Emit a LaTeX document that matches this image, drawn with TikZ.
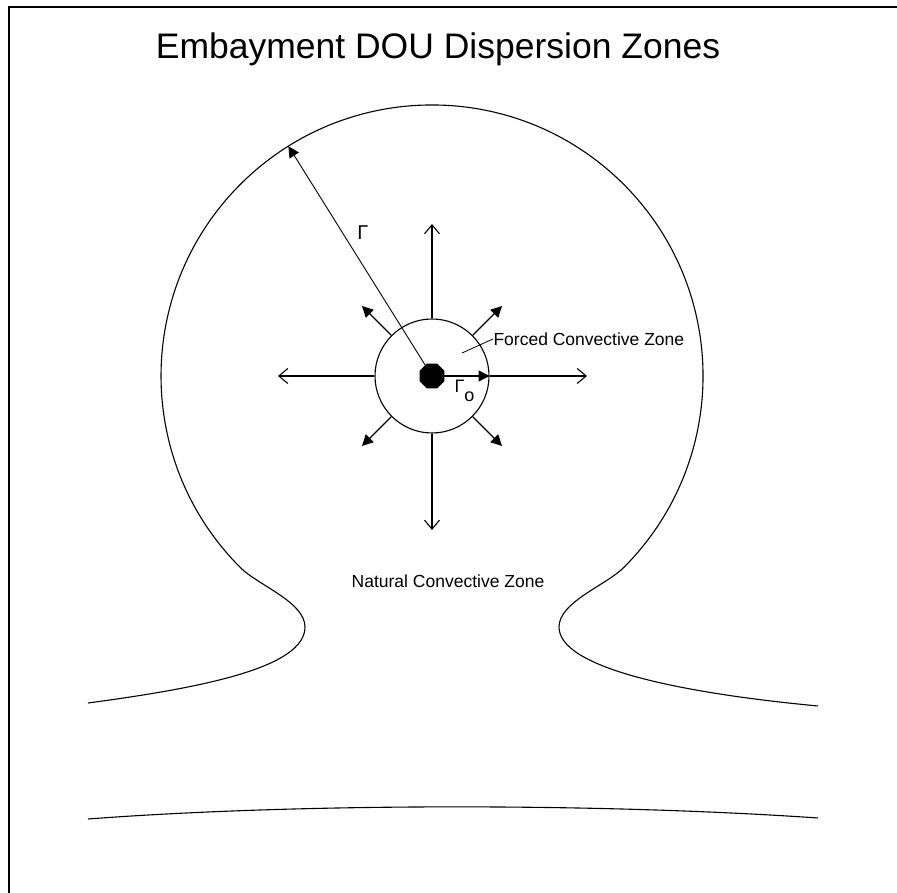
\documentclass[tikz,border=0pt]{standalone}
\usepackage{fontspec}
\setmainfont{Liberation Sans}
\usetikzlibrary{calc, shapes.geometric, arrows.meta}

\begin{document}
\begin{tikzpicture}[
    x = 1pt, y = 1pt,
    line width = 1.1pt,
    every node/.style = {inner sep = 0pt},
    spread/.style = {-{Straight Barb[length=9pt, width=15pt]}},
    radius arrow/.style = {-{Triangle[length=11pt, width=11pt]}},
    zone/.style = {font = \fontsize{17.5}{20}\selectfont},
    symbol/.style = {font = \fontsize{20}{24}\selectfont}
  ]
  \useasboundingbox (0,0) rectangle (897,893);

  % frame
  \draw[line width = 2.5pt] (9,0) -- (9,886) -- (897,886);

  \node[anchor = base, font = \fontsize{35.5}{42}\selectfont] (title)
    at (438,834) {Embayment DOU Dispersion Zones};

  % embayment outline
  \coordinate (c) at (432,517);
  \draw (88,190) .. controls (200,205) and (305,225) .. (305,266)
    .. controls (305,291) and (258,307.7) .. (240.4,325.4)
    arc[start angle = 225, end angle = -45, radius = 271]
    .. controls (606,307.7) and (559,291) .. (559,266)
    .. controls (559,225) and (680,200) .. (818,187);
  \draw (88,74) .. controls (300,90) and (600,90) .. (818,75);

  % zones
  \node[draw, circle, minimum size = 114pt] (fz) at (c) {};
  \node[regular polygon, regular polygon sides = 8, fill,
    minimum size = 27pt] (well) at (c) {};

  \coordinate (n)  at ($(c)+(90:152)$);
  \coordinate (s)  at ($(c)+(270:154)$);
  \coordinate (w)  at ($(c)+(180:154)$);
  \coordinate (e)  at ($(c)+(0:155)$);
  \coordinate (nw) at ($(c)+(135:99)$);
  \coordinate (ne) at ($(c)+(45:99)$);
  \coordinate (sw) at ($(c)+(225:99)$);
  \coordinate (se) at ($(c)+(315:99)$);
  \coordinate (rtip) at ($(c)+(122:271)$);

  \draw[spread] (fz.north) -- (n);
  \draw[spread] (fz.south) -- (s);
  \draw[spread] (fz.west)  -- (w);
  \draw[spread] (fz.east)  -- (e);
  \draw[radius arrow] (fz.north west) -- (nw);
  \draw[radius arrow] (fz.north east) -- (ne);
  \draw[radius arrow] (fz.south west) -- (sw);
  \draw[radius arrow] (fz.south east) -- (se);

  \draw[radius arrow] (well.center) -- (fz.east);
  \draw[radius arrow, line width = 0.9pt] (well.center) -- (rtip);

  % Labels
  \node[symbol] (r) at (363,660) {Γ};
  \node[anchor = base west, font = \fontsize{18}{22}\selectfont] (ro)
    at (454,500) {Γ\raisebox{-9pt}{o}};
  \node[zone, anchor = west] (forced) at (493,554) {Forced Convective Zone};
  \coordinate (lead) at (462,540);
  \draw[line width = 0.8pt] (forced.west) -- (lead);
  \node[zone] (natural) at (448,312) {Natural Convective Zone};

\end{tikzpicture}
\end{document}
